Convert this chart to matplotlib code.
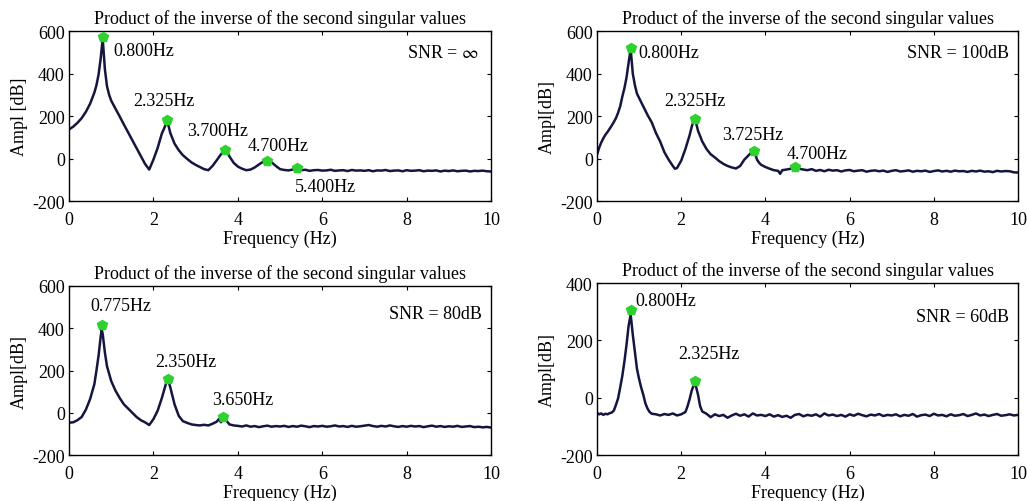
import numpy as np
import matplotlib
matplotlib.use("Agg")
import matplotlib.pyplot as plt

plt.rcParams['font.family'] = ['Liberation Serif', 'DejaVu Serif']
plt.rcParams['mathtext.fontset'] = 'stix'
plt.rcParams['axes.unicode_minus'] = False

TITLE = "Product of the inverse of the second singular values"
XLABEL = "Frequency (Hz)"

# ---------- Panel A: SNR = inf ----------
a_head_f = [0, 0.1, 0.2, 0.3, 0.4, 0.5, 0.6, 0.65, 0.7, 0.75, 0.78, 0.8, 0.85, 0.9, 0.95, 1.0,
            1.1, 1.2, 1.3, 1.4, 1.5, 1.6, 1.7, 1.8, 1.9, 2.0, 2.1, 2.2, 2.25, 2.3, 2.325,
            2.35, 2.4, 2.5, 2.6, 2.7, 2.8, 2.9, 3.0, 3.1, 3.2, 3.3, 3.4, 3.5, 3.6, 3.65,
            3.7, 3.75, 3.8, 3.9, 4.0, 4.1, 4.2, 4.3, 4.4, 4.5, 4.6, 4.7, 4.8, 4.9, 5.0]
a_head_v = [137, 150, 168, 190, 220, 258, 310, 345, 395, 470, 530, 560, 420, 340, 300, 272,
            235, 198, 160, 123, 86, 49, 12, -25, -52, -5, 50, 118, 140, 165, 172,
            160, 120, 70, 39, 15, -2, -18, -30, -40, -50, -55, -35, -8, 20, 32,
            38, 30, 10, -20, -38, -48, -55, -52, -42, -28, -15, -10, -18, -35, -50]
a_tail_v = [-54, -56, -52, -57, -55, -53, -58, -55, -54, -57,
            -56, -53, -58, -56, -55, -59, -54, -57, -56, -58,
            -55, -60, -56, -57, -54, -59, -57, -56, -60, -55,
            -58, -57, -55, -60, -57, -58, -56, -61, -57, -59,
            -56, -60, -58, -57, -61, -58, -59, -57, -60, -61]
a_tail_start = 5.1
a_peaks_f = [0.8, 2.325, 3.7, 4.7, 5.4]
a_peaks_v = [573, 183, 42, -10, -45]
a_labels = ["0.800Hz", "2.325Hz", "3.700Hz", "4.700Hz", "5.400Hz"]

# ---------- Panel B: SNR = 100dB ----------
b_head_f = [0, 0.05, 0.1, 0.15, 0.2, 0.25, 0.3, 0.35, 0.4, 0.45, 0.5, 0.55, 0.6, 0.65, 0.7,
            0.75, 0.8, 0.85, 0.9, 0.95, 1.0, 1.1, 1.2, 1.3, 1.4, 1.5, 1.6, 1.7, 1.8, 1.85,
            1.9, 2.0, 2.1, 2.2, 2.25, 2.3, 2.325, 2.35, 2.4, 2.5, 2.6, 2.7, 2.8, 2.9, 3.0,
            3.1, 3.2, 3.3, 3.4, 3.5, 3.6, 3.65, 3.7, 3.75, 3.8, 3.85, 3.9, 4.0, 4.1, 4.2,
            4.3, 4.35, 4.4, 4.5, 4.6, 4.7, 4.8]
b_head_v = [18, 50, 75, 95, 112, 125, 140, 155, 172, 190, 215, 245, 290, 330, 380,
            450, 515, 400, 345, 305, 285, 245, 205, 170, 120, 80, 30, -5, -35, -48,
            -45, -10, 45, 110, 150, 180, 185, 170, 130, 80, 45, 20, 5, -12, -25,
            -35, -42, -47, -35, -5, 15, 25, 30, 25, -5, -20, -30, -40, -48, -55,
            -58, -72, -55, -52, -48, -40, -48]
b_tail_v = [-52, -55, -50, -58, -54, -60, -53, -57, -55, -61,
            -56, -54, -60, -57, -55, -62, -58, -56, -60, -57,
            -63, -58, -55, -61, -59, -56, -62, -58, -60, -57,
            -63, -59, -56, -61, -58, -62, -57, -60, -59, -63,
            -58, -61, -57, -62, -60, -64, -58, -61, -59, -60,
            -65, -66]
b_tail_start = 4.9
b_peaks_f = [0.8, 2.325, 3.725, 4.7]
b_peaks_v = [518, 188, 35, -38]
b_labels = ["0.800Hz", "2.325Hz", "3.725Hz", "4.700Hz"]

# ---------- Panel C: SNR = 80dB ----------
c_head_f = [0, 0.1, 0.2, 0.3, 0.4, 0.5, 0.6, 0.65, 0.7, 0.75, 0.775, 0.8, 0.85, 0.9, 1.0,
            1.1, 1.2, 1.3, 1.35, 1.4, 1.5, 1.6, 1.7, 1.8, 1.9, 2.0, 2.1, 2.2, 2.3, 2.35,
            2.4, 2.5, 2.6, 2.7, 2.8, 2.9, 3.0, 3.1, 3.2, 3.3, 3.4, 3.5, 3.55, 3.6, 3.65,
            3.7, 3.8, 3.9]
c_head_v = [-47, -45, -35, -20, 15, 65, 135, 200, 270, 360, 395, 370, 285, 220, 150,
            105, 70, 40, 30, 20, 0, -20, -35, -45, -58, -30, 10, 70, 140, 155,
            120, 40, -15, -40, -48, -55, -58, -60, -57, -60, -52, -42, -30, -45, -25,
            -30, -55, -60]
c_tail_v = [-62, -65, -60, -66, -63, -68, -64, -61, -66, -63,
            -65, -62, -67, -63, -66, -61, -64, -68, -63, -65,
            -62, -66, -64, -60, -65, -63, -67, -62, -66, -64,
            -61, -58, -63, -66, -62, -65, -60, -64, -67, -63,
            -66, -62, -65, -63, -68, -64, -61, -66, -63, -67,
            -64, -66, -62, -67, -65, -63, -68, -66, -69, -67,
            -70]
c_tail_start = 4.0
c_peaks_f = [0.775, 2.35, 3.65]
c_peaks_v = [415, 160, -20]
c_labels = ["0.775Hz", "2.350Hz", "3.650Hz"]

# ---------- Panel D: SNR = 60dB ----------
d_head_f = [0, 0.05, 0.1, 0.15, 0.2, 0.25, 0.3, 0.35, 0.4, 0.45, 0.5, 0.55, 0.6, 0.65, 0.7,
            0.75, 0.8, 0.85, 0.9, 0.95, 1.0, 1.05, 1.1, 1.15, 1.2, 1.25, 1.3, 1.4, 1.5, 1.6,
            1.7, 1.8, 1.9, 2.0, 2.1, 2.15, 2.2, 2.25, 2.3, 2.325, 2.35, 2.4, 2.45, 2.5, 2.6]
d_head_v = [-53, -58, -55, -60, -56, -58, -54, -52, -45, -25, -3, 35, 75, 125, 183,
            250, 290, 220, 160, 100, 65, 35, 10, -20, -38, -50, -56, -58, -62, -57,
            -60, -55, -62, -58, -50, -30, -5, 25, 45, 50, 40, 10, -30, -48, -56]
d_tail_v = [-68, -58, -64,
            -60, -70, -62, -56, -63, -58, -66, -55, -62, -60,
            -64, -58, -66, -61, -67, -63, -70, -60, -57, -65,
            -60, -63, -58, -66, -55, -62, -59, -64, -60, -66,
            -58, -63, -56, -61, -65, -59, -62, -57, -64, -60,
            -62, -58, -65, -60, -63, -57, -66, -61, -59, -64,
            -56, -62, -60, -65, -58, -63, -61, -57, -64, -60,
            -55, -62, -59, -64, -60, -57, -63, -61, -58, -62,
            -60]
d_tail_start = 2.7
d_peaks_f = [0.8, 2.325]
d_peaks_v = [305, 57]
d_labels = ["0.800Hz", "2.325Hz"]

panels = [
    dict(hf=a_head_f, hv=a_head_v, tv=a_tail_v, ts=a_tail_start, pf=a_peaks_f, pv=a_peaks_v,
         labels=a_labels, snr=r"SNR = $\infty$", ylabel="Ampl [dB]", ylim=(-200, 600),
         yticks=[-200, 0, 200, 400, 600],
         lpos=[(1.05, 510, 'left'), (2.25, 274, 'center'), (3.52, 133, 'center'),
               (4.96, 62, 'center'), (6.07, -134, 'center')],
         snrpos=(9.7, 501), rect=[0.0672, 0.5976, 0.411, 0.3386]),
    dict(hf=b_head_f, hv=b_head_v, tv=b_tail_v, ts=b_tail_start, pf=b_peaks_f, pv=b_peaks_v,
         labels=b_labels, snr="SNR = 100dB", ylabel="Ampl[dB]", ylim=(-200, 600),
         yticks=[-200, 0, 200, 400, 600],
         lpos=[(0.99, 501, 'left'), (2.33, 272, 'center'), (3.70, 112, 'center'),
               (5.22, 24, 'center')],
         snrpos=(9.78, 501), rect=[0.5813, 0.5976, 0.410, 0.3386]),
    dict(hf=c_head_f, hv=c_head_v, tv=c_tail_v, ts=c_tail_start, pf=c_peaks_f, pv=c_peaks_v,
         labels=c_labels, snr="SNR = 80dB", ylabel="Ampl[dB]", ylim=(-200, 600),
         yticks=[-200, 0, 200, 400, 600],
         lpos=[(1.22, 507, 'center'), (2.77, 242, 'center'), (4.11, 63, 'center')],
         snrpos=(9.77, 468), rect=[0.0672, 0.0916, 0.411, 0.3367]),
    dict(hf=d_head_f, hv=d_head_v, tv=d_tail_v, ts=d_tail_start, pf=d_peaks_f, pv=d_peaks_v,
         labels=d_labels, snr="SNR = 60dB", ylabel="Ampl[dB]", ylim=(-200, 400),
         yticks=[-200, 0, 200, 400],
         lpos=[(0.91, 340, 'left'), (2.66, 153, 'center')],
         snrpos=(9.78, 284), rect=[0.5813, 0.0916, 0.410, 0.3426]),
]

LINE_COLOR = "#15163f"
MARK_COLOR = "#2fd12f"
FS = 13

fig = plt.figure(figsize=(10.27, 5.02), dpi=100)
for p in panels:
    ax = fig.add_axes(p['rect'])
    tail_f = np.linspace(p['ts'], 10.0, len(p['tv']))
    f = np.concatenate([np.array(p['hf'], float), tail_f])
    v = np.concatenate([np.array(p['hv'], float), np.array(p['tv'], float)])
    ax.plot(f, v, color=LINE_COLOR, lw=1.8, zorder=2)
    ax.plot(p['pf'], p['pv'], linestyle='none', marker='p', markersize=7.5,
            color=MARK_COLOR, markeredgecolor=MARK_COLOR, zorder=3)
    for lab, (x, y, ha) in zip(p['labels'], p['lpos']):
        ax.text(x, y, lab, ha=ha, va='center', fontsize=FS)
    ax.text(p['snrpos'][0], p['snrpos'][1], p['snr'], ha='right', va='center', fontsize=FS)
    ax.set_xlim(0, 10)
    ax.set_ylim(*p['ylim'])
    ax.set_xticks([0, 2, 4, 6, 8, 10])
    ax.set_yticks(p['yticks'])
    ax.tick_params(direction='in', top=True, right=True, labelsize=FS, length=3)
    ax.tick_params(axis='x', pad=7)
    ax.tick_params(axis='y', pad=3)
    ax.set_title(TITLE, fontsize=FS, pad=6)
    ax.set_xlabel(XLABEL, fontsize=FS, labelpad=1.5)
    ax.set_ylabel(p['ylabel'], fontsize=FS, labelpad=3)
    for s in ax.spines.values():
        s.set_linewidth(1.0)

fig.savefig("out.png", dpi=100)
